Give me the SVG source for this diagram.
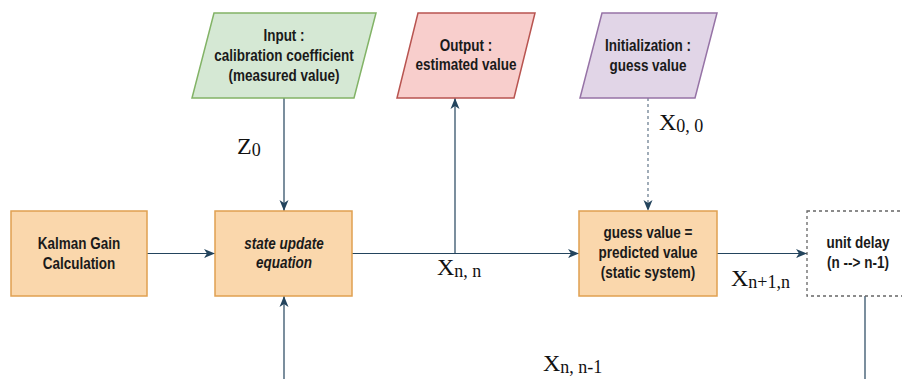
<svg xmlns="http://www.w3.org/2000/svg" width="902" height="379" viewBox="0 0 902 379">
<defs>
<marker id="arr" markerUnits="userSpaceOnUse" markerWidth="12" markerHeight="10" viewBox="0 0 12 10" refX="11" refY="5" orient="auto">
<path d="M0,0.5 L11,5 L0,9.5 L3,5 Z" fill="#23445d"/>
</marker>
<style>
.lbl{font-family:"Liberation Sans",Arial,sans-serif;font-size:13.5px;font-weight:bold;fill:#1a1a1a;text-anchor:middle}
.it{font-style:italic}
.math{font-family:"Liberation Serif","Times New Roman",serif;font-size:24px;fill:#111}
.sub{font-size:18px}
.con{fill:none;stroke:#23445d;stroke-width:1.2}
.dash{fill:none;stroke:#6f8193;stroke-width:1.3;stroke-dasharray:3 3}
.orange{fill:#fad7ac;stroke:#e0a050;stroke-width:1.5}
</style>
</defs>
<rect width="902" height="379" fill="#ffffff"/>

<g id="connectors">
<line class="con" x1="147" y1="253.5" x2="215" y2="253.5" marker-end="url(#arr)"/>
<line class="con" x1="284" y1="98" x2="284" y2="211" marker-end="url(#arr)"/>
<line class="con" x1="352" y1="253.5" x2="579" y2="253.5" marker-end="url(#arr)"/>
<line class="con" x1="455" y1="253.5" x2="455" y2="98" marker-end="url(#arr)"/>
<line class="dash" x1="648" y1="98" x2="648" y2="211" marker-end="url(#arr)"/>
<line class="con" x1="717" y1="253.5" x2="807" y2="253.5" marker-end="url(#arr)"/>
<line class="con" x1="865" y1="296" x2="865" y2="379" stroke="#5a6b7b"/>
<line class="con" x1="284" y1="379" x2="284" y2="296" marker-end="url(#arr)"/>
</g>

<g id="labels">
<text class="math" x="237" y="153.5">Z<tspan class="sub" dy="2">0</tspan></text>
<text class="math" x="659" y="130">X<tspan class="sub" dy="2">0, 0</tspan></text>
<text class="math" x="437" y="275">X<tspan class="sub" dy="2">n, n</tspan></text>
<text class="math" x="731" y="286">X<tspan class="sub" dy="2">n+1,n</tspan></text>
<text class="math" x="543" y="371">X<tspan class="sub" dy="2">n, n-1</tspan></text>
</g>

<g id="input">
<polygon points="214,13 376,13 354,98 192,98" fill="#d5e8d4" stroke="#82b366" stroke-width="1.5"/>
<text class="lbl" transform="translate(284,40.7) scale(1,1.24)"><tspan x="0" y="0">Input :</tspan><tspan x="0" dy="16.1">calibration coefficient</tspan><tspan x="0" dy="16.1">(measured value)</tspan></text>
</g>

<g id="output">
<polygon points="418,13 535,13 514,98 397,98" fill="#f8cecc" stroke="#b85450" stroke-width="1.5"/>
<text class="lbl" transform="translate(466,50.5) scale(1,1.24)"><tspan x="0" y="0">Output :</tspan><tspan x="0" dy="16.1">estimated value</tspan></text>
</g>

<g id="init">
<polygon points="602,13 717,13 695,98 580,98" fill="#e1d5e7" stroke="#9673a6" stroke-width="1.5"/>
<text class="lbl" transform="translate(648,50.7) scale(1,1.24)"><tspan x="0" y="0">Initialization :</tspan><tspan x="0" dy="16.1">guess value</tspan></text>
</g>

<g id="kalman">
<rect class="orange" x="11" y="211" width="136" height="85"/>
<text class="lbl" transform="translate(79,249.3) scale(1,1.24)"><tspan x="0" y="0">Kalman Gain</tspan><tspan x="0" dy="16.1">Calculation</tspan></text>
</g>

<g id="state-update">
<rect class="orange" x="215" y="211" width="137" height="85"/>
<text class="lbl it" transform="translate(284,248.5) scale(1,1.24)"><tspan x="0" y="0">state update</tspan><tspan x="0" dy="16.1">equation</tspan></text>
</g>

<g id="guess">
<rect class="orange" x="579" y="211" width="138" height="85"/>
<text class="lbl" transform="translate(648,238.3) scale(1,1.24)"><tspan x="0" y="0">guess value =</tspan><tspan x="0" dy="16.1">predicted value</tspan><tspan x="0" dy="16.1">(static system)</tspan></text>
</g>

<g id="unit-delay">
<rect x="807" y="211" width="102" height="85" fill="#ffffff" stroke="#666666" stroke-width="1.3" stroke-dasharray="3 3"/>
<text class="lbl" transform="translate(858,248.3) scale(1,1.24)"><tspan x="0" y="0">unit delay</tspan><tspan x="0" dy="16.1">(n --&gt; n-1)</tspan></text>
</g>
</svg>
